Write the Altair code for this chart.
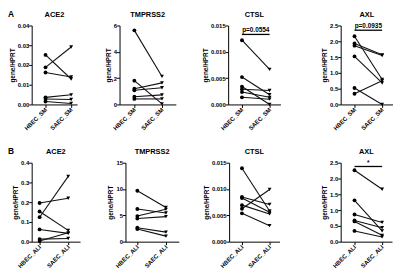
import altair as alt
import pandas as pd

genes = ["ACE2", "TMPRSS2", "CTSL", "AXL"]
groups_sm = ["HBEC_SM", "SAEC_SM"]
groups_ali = ["HBEC_ALI", "SAEC_ALI"]

# Row A (SM)
a_ace2_hbec = [0.0251, 0.0188, 0.0162, 0.0036, 0.0028, 0.0015]
a_ace2_saec = [0.0129, 0.0291, 0.0139, 0.0049, 0.0025, 0.0005]
a_tmprss2_hbec = [5.63, 1.81, 1.20, 1.08, 0.59, 0.42]
a_tmprss2_saec = [2.13, 0.05, 1.64, 1.27, 0.73, 0.42]
a_ctsl_hbec = [0.0122, 0.0052, 0.0034, 0.0029, 0.00235, 0.00136]
a_ctsl_saec = [0.00667, 0.00185, 0.0000, 0.00265, 0.00136, 0.0010]
a_axl_hbec = [2.16, 1.93, 1.86, 1.52, 0.52, 0.34]
a_axl_saec = [0.79, 1.57, 1.55, 0.68, 0.00, 0.75]

# Row B (ALI)
b_ace2_hbec = [0.196, 0.153, 0.124, 0.062, 0.013, 0.003]
b_ace2_saec = [0.220, 0.057, 0.331, 0.042, 0.016, 0.045]
b_tmprss2_hbec = [9.67, 6.21, 4.86, 4.39, 2.64, 2.40]
b_tmprss2_saec = [6.50, 5.45, 6.15, 4.75, 1.82, 1.05]
b_ctsl_hbec = [0.01395, 0.0085, 0.0083, 0.00694, 0.00626, 0.00539]
b_ctsl_saec = [0.00583, 0.00707, 0.00558, 0.00527, 0.00992, 0.00304]
b_axl_hbec = [2.26, 1.31, 0.86, 0.67, 0.64, 0.34]
b_axl_saec = [1.66, 0.34, 0.61, 0.44, 0.20, 0.15]

ticks_ace2_a = [0, 0.01, 0.02, 0.03, 0.04]
ticks_tmprss2_a = [0, 2, 4, 6]
ticks_ctsl = [0, 0.005, 0.010, 0.015]
ticks_axl = [0, 0.5, 1.0, 1.5, 2.0, 2.5]
ticks_ace2_b = [0, 0.1, 0.2, 0.3, 0.4]
ticks_tmprss2_b = [0, 5, 10, 15]

FONT = "Liberation Sans"
H = 80


def panel(title, groups, hbec, saec, ticks, fmt, width, offs, annot=None, letter=None):
    n = len(hbec)
    df = pd.DataFrame({
        "donor": list(range(n)) * 2,
        "group": [groups[0]] * n + [groups[1]] * n,
        "value": hbec + saec,
    })
    left, right = offs
    step = right - left
    pad = (width / step - 1) / 2
    align = left / (width - step)
    xscale = alt.Scale(type="point", domain=groups, padding=pad, align=align)
    xaxis = alt.Axis(title=None, labelAngle=-45, labelAlign="right",
                     labelBaseline="middle", labelPadding=1)
    yscale = alt.Scale(domain=[ticks[0], ticks[-1]], nice=False, zero=True)
    yaxis = alt.Axis(title="gene/HPRT", values=ticks, format=fmt, titlePadding=2,
                     labelOverlap=False)
    x = alt.X("group:N", sort=groups, scale=xscale, axis=xaxis)
    y = alt.Y("value:Q", scale=yscale, axis=yaxis)
    base = alt.Chart(df)
    lines = base.mark_line(color="#111", strokeWidth=1.1).encode(x=x, y=y, detail="donor:N")
    pts = base.mark_point(filled=True, color="black", size=15, opacity=1).encode(
        x=x, y=y,
        shape=alt.Shape("group:N", scale=alt.Scale(domain=groups, range=["circle", "triangle-down"]),
                        legend=None))
    layers = [lines, pts]
    if annot is not None:
        bar, label = annot
        adf = pd.DataFrame({"group": [groups[0]], "group2": [groups[1]], "value": [bar], "t": [label]})
        ab = alt.Chart(adf)
        layers.append(ab.mark_rule(color="black", strokeWidth=1.3).encode(
            x=x, x2="group2:N", y=y))
        layers.append(ab.mark_text(font=FONT, fontSize=6.5, fontWeight="bold", baseline="bottom",
                                   dx=step / 2, dy=-1).encode(x=x, y=y, text="t:N"))
    tdf = pd.DataFrame({"t": [title]})
    layers.append(alt.Chart(tdf).mark_text(font=FONT, fontSize=7.5, fontWeight="bold",
                                           align="center", baseline="middle").encode(
        text="t:N", x=alt.value(width / 2), y=alt.value(-11)))
    if letter is not None:
        ldf = pd.DataFrame({"t": [letter]})
        layers.append(alt.Chart(ldf).mark_text(font=FONT, fontSize=8.5, fontWeight="bold",
                                               align="left", baseline="middle").encode(
            text="t:N", x=alt.value(-24), y=alt.value(-12)))
    return alt.layer(*layers).properties(width=width, height=H)


pa1 = panel(genes[0], groups_sm, a_ace2_hbec, a_ace2_saec, ticks_ace2_a, ".2f", 46, (14, 40), letter="A")
pa2 = panel(genes[1], groups_sm, a_tmprss2_hbec, a_tmprss2_saec, ticks_tmprss2_a, "d", 57, (15, 43))
pa3 = panel(genes[2], groups_sm, a_ctsl_hbec, a_ctsl_saec, ticks_ctsl, ".3f", 53, (14, 42),
            annot=(0.0133, "p=0.0554"))
pa4 = panel(genes[3], groups_sm, a_axl_hbec, a_axl_saec, ticks_axl, ".1f", 53, (14, 42),
            annot=(2.35, "p=0.0935"))

pb1 = panel(genes[0], groups_ali, b_ace2_hbec, b_ace2_saec, ticks_ace2_b, ".1f", 49, (8, 37), letter="B")
pb2 = panel(genes[1], groups_ali, b_tmprss2_hbec, b_tmprss2_saec, ticks_tmprss2_b, "d", 54, (12, 41))
pb3 = panel(genes[2], groups_ali, b_ctsl_hbec, b_ctsl_saec, ticks_ctsl, ".3f", 51, (13, 41))
pb4 = panel(genes[3], groups_ali, b_axl_hbec, b_axl_saec, ticks_axl, ".1f", 52, (14, 42),
            annot=(2.38, "*"))

row_a = alt.hconcat(alt.hconcat(alt.hconcat(pa1, pa2, spacing=28), pa3, spacing=26), pa4, spacing=41)
row_b = alt.hconcat(alt.hconcat(alt.hconcat(pb1, pb2, spacing=28), pb3, spacing=24), pb4, spacing=42)

chart = alt.vconcat(row_a, row_b, spacing=16).properties(padding=0).configure_view(
    stroke=None
).configure_axis(
    grid=False, domainColor="black", tickColor="black", domainWidth=1, tickWidth=1,
    tickSize=3, labelFont=FONT, labelFontSize=6, labelFontWeight="bold", labelColor="black",
    labelPadding=0, titleFont=FONT, titleFontSize=6.5, titleFontWeight="bold", titleColor="black",
).configure_axisX(labelFontSize=6, labelPadding=1)

chart.save("out.html", embed_options={"renderer": "svg", "actions": False})
